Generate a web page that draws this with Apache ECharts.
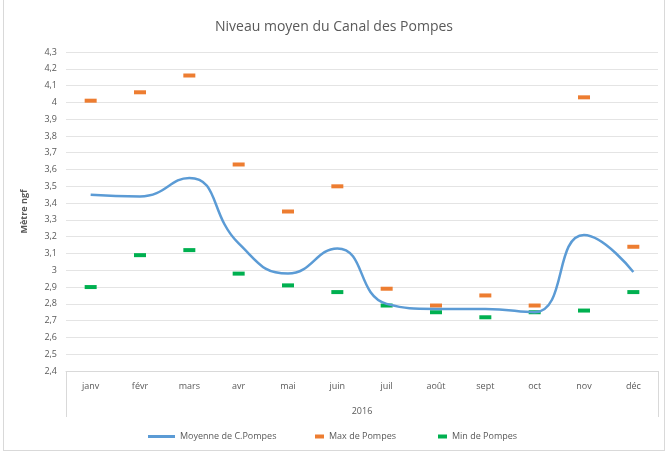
<!DOCTYPE html>
<html>
<head>
<meta charset="utf-8">
<script src="https://cdn.jsdelivr.net/npm/echarts@6/dist/echarts.min.js"></script>
<style>
  html, body { margin: 0; padding: 0; background: #fff; }
  #chart {
    position: absolute; left: 3px; top: 0; width: 662px; height: 451px;
    border: 1px solid #d9d9d9; border-top: none; box-sizing: border-box;
  }
</style>
</head>
<body>
<div id="chart"></div>
<script>
const months = ['janv', 'févr', 'mars', 'avr', 'mai', 'juin', 'juil', 'août', 'sept', 'oct', 'nov', 'déc']
const moyenne = [3.45, 3.44, 3.55, 3.16, 2.98, 3.13, 2.80, 2.77, 2.77, 2.75, 3.21, 2.99]
const maxPompes = [4.01, 4.06, 4.16, 3.63, 3.35, 3.50, 2.89, 2.79, 2.85, 2.79, 4.03, 3.14]
const minPompes = [2.90, 3.09, 3.12, 2.98, 2.91, 2.87, 2.79, 2.75, 2.72, 2.75, 2.76, 2.87]

const textColor = '#595959'
const font = 'Open Sans'

const chart = echarts.init(document.getElementById('chart'))

const legendBase = {
  top: 427,
  icon: 'rect',
  itemGap: 10,
  textStyle: { color: textColor, fontSize: 9, fontFamily: font }
}

const option = {
  animation: false,
  title: {
    text: 'Niveau moyen du Canal des Pompes',
    left: 'center',
    top: 15,
    textStyle: { color: textColor, fontSize: 14, fontWeight: 'normal', fontFamily: font }
  },
  legend: [
    Object.assign({}, legendBase, { left: 139, data: ['Moyenne de C.Pompes'], itemWidth: 27, itemHeight: 3, itemGap: 3 }),
    Object.assign({}, legendBase, { left: 306, data: ['Max de Pompes'], itemWidth: 9, itemHeight: 4 }),
    Object.assign({}, legendBase, { left: 429, data: ['Min de Pompes'], itemWidth: 9, itemHeight: 4 })
  ],
  grid: { left: 62, right: 6, top: 52, bottom: 79 },
  xAxis: {
    type: 'category',
    data: months,
    name: '2016',
    nameLocation: 'middle',
    nameGap: 36,
    nameTextStyle: { color: textColor, fontSize: 9, fontFamily: font },
    axisLine: { lineStyle: { color: '#d9d9d9' } },
    axisTick: {
      show: true,
      length: 46,
      interval: (i) => i === 0,
      lineStyle: { color: '#d9d9d9' }
    },
    axisLabel: { color: textColor, fontSize: 9, fontFamily: font, margin: 11 }
  },
  yAxis: {
    type: 'value',
    min: 2.4,
    max: 4.3,
    interval: 0.1,
    name: 'Mètre ngf',
    nameLocation: 'middle',
    nameGap: 37,
    nameTextStyle: { color: textColor, fontSize: 9, fontWeight: 'bold', fontFamily: font },
    axisLine: { show: false },
    axisTick: { show: false },
    axisLabel: {
      color: textColor, fontSize: 9, fontFamily: font, margin: 9,
      formatter: (v) => String(Math.round(v * 10) / 10).replace('.', ',')
    },
    splitLine: { lineStyle: { color: '#e4e4e4' } }
  },
  series: [
    {
      name: 'Moyenne de C.Pompes',
      type: 'line',
      data: moyenne,
      smooth: 0.5,
      showSymbol: false,
      symbol: 'none',
      lineStyle: { color: '#5B9BD5', width: 2.5 },
      itemStyle: { color: '#5B9BD5' }
    },
    {
      name: 'Max de Pompes',
      type: 'scatter',
      data: maxPompes,
      symbol: 'rect',
      symbolSize: [12, 4],
      itemStyle: { color: '#ED7D31', opacity: 1 }
    },
    {
      name: 'Min de Pompes',
      type: 'scatter',
      data: minPompes,
      symbol: 'rect',
      symbolSize: [12, 4],
      itemStyle: { color: '#00B050', opacity: 1 }
    }
  ]
}

chart.setOption(option)
</script>
</body>
</html>
